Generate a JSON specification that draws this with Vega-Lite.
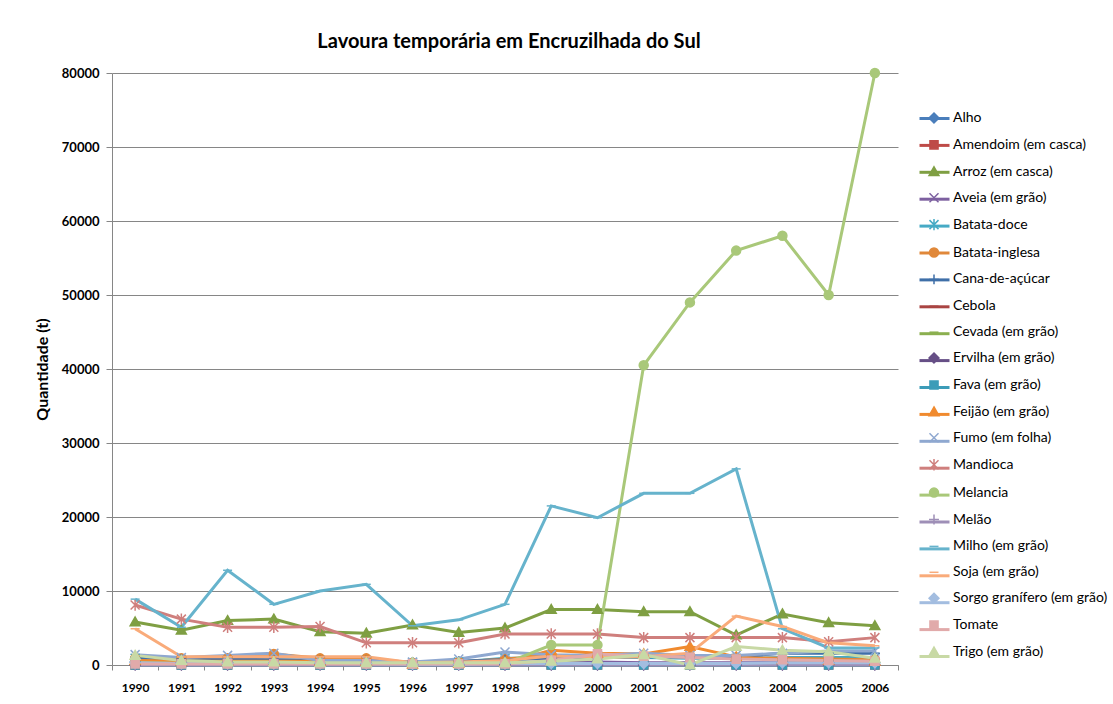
{
"$schema":"https://vega.github.io/schema/vega-lite/v6.json",
"width":786,"height":592,
"autosize":"none",
"padding":{"left":112,"top":73,"right":215,"bottom":39},
"background":"white",
"title":{"text":"Lavoura temporária em Encruzilhada do Sul","font":"Lato","fontSize":20,"fontWeight":"bold","color":"#000000","anchor":"middle","offset":14,"dx":4},
"config":{"view":{"stroke":null},"font":"Lato"},
"data":{"values":[
{"crop":"Alho","year":"1990","value":400},{"crop":"Alho","year":"1991","value":300},{"crop":"Alho","year":"1992","value":300},{"crop":"Alho","year":"1993","value":200},{"crop":"Alho","year":"1994","value":200},{"crop":"Alho","year":"1995","value":200},{"crop":"Alho","year":"1996","value":100},{"crop":"Alho","year":"1997","value":100},{"crop":"Alho","year":"1998","value":100},{"crop":"Alho","year":"1999","value":200},{"crop":"Alho","year":"2000","value":300},{"crop":"Alho","year":"2001","value":200},{"crop":"Alho","year":"2002","value":200},{"crop":"Alho","year":"2003","value":200},{"crop":"Alho","year":"2004","value":300},{"crop":"Alho","year":"2005","value":300},{"crop":"Alho","year":"2006","value":300},
{"crop":"Amendoim (em casca)","year":"1990","value":0},{"crop":"Amendoim (em casca)","year":"1991","value":0},{"crop":"Amendoim (em casca)","year":"1992","value":0},{"crop":"Amendoim (em casca)","year":"1993","value":0},{"crop":"Amendoim (em casca)","year":"1994","value":0},{"crop":"Amendoim (em casca)","year":"1995","value":0},{"crop":"Amendoim (em casca)","year":"1996","value":0},{"crop":"Amendoim (em casca)","year":"1997","value":0},{"crop":"Amendoim (em casca)","year":"1998","value":0},{"crop":"Amendoim (em casca)","year":"1999","value":0},{"crop":"Amendoim (em casca)","year":"2000","value":0},{"crop":"Amendoim (em casca)","year":"2001","value":0},{"crop":"Amendoim (em casca)","year":"2002","value":0},{"crop":"Amendoim (em casca)","year":"2003","value":0},{"crop":"Amendoim (em casca)","year":"2004","value":0},{"crop":"Amendoim (em casca)","year":"2005","value":0},{"crop":"Amendoim (em casca)","year":"2006","value":0},
{"crop":"Arroz (em casca)","year":"1990","value":5800},{"crop":"Arroz (em casca)","year":"1991","value":4700},{"crop":"Arroz (em casca)","year":"1992","value":6000},{"crop":"Arroz (em casca)","year":"1993","value":6200},{"crop":"Arroz (em casca)","year":"1994","value":4500},{"crop":"Arroz (em casca)","year":"1995","value":4300},{"crop":"Arroz (em casca)","year":"1996","value":5400},{"crop":"Arroz (em casca)","year":"1997","value":4400},{"crop":"Arroz (em casca)","year":"1998","value":5000},{"crop":"Arroz (em casca)","year":"1999","value":7500},{"crop":"Arroz (em casca)","year":"2000","value":7500},{"crop":"Arroz (em casca)","year":"2001","value":7200},{"crop":"Arroz (em casca)","year":"2002","value":7200},{"crop":"Arroz (em casca)","year":"2003","value":4050},{"crop":"Arroz (em casca)","year":"2004","value":6900},{"crop":"Arroz (em casca)","year":"2005","value":5700},{"crop":"Arroz (em casca)","year":"2006","value":5300},
{"crop":"Aveia (em grão)","year":"1990","value":300},{"crop":"Aveia (em grão)","year":"1991","value":200},{"crop":"Aveia (em grão)","year":"1992","value":200},{"crop":"Aveia (em grão)","year":"1993","value":300},{"crop":"Aveia (em grão)","year":"1994","value":200},{"crop":"Aveia (em grão)","year":"1995","value":200},{"crop":"Aveia (em grão)","year":"1996","value":100},{"crop":"Aveia (em grão)","year":"1997","value":200},{"crop":"Aveia (em grão)","year":"1998","value":300},{"crop":"Aveia (em grão)","year":"1999","value":300},{"crop":"Aveia (em grão)","year":"2000","value":400},{"crop":"Aveia (em grão)","year":"2001","value":300},{"crop":"Aveia (em grão)","year":"2002","value":300},{"crop":"Aveia (em grão)","year":"2003","value":300},{"crop":"Aveia (em grão)","year":"2004","value":300},{"crop":"Aveia (em grão)","year":"2005","value":300},{"crop":"Aveia (em grão)","year":"2006","value":300},
{"crop":"Batata-doce","year":"1990","value":900},{"crop":"Batata-doce","year":"1991","value":600},{"crop":"Batata-doce","year":"1992","value":600},{"crop":"Batata-doce","year":"1993","value":700},{"crop":"Batata-doce","year":"1994","value":600},{"crop":"Batata-doce","year":"1995","value":600},{"crop":"Batata-doce","year":"1996","value":300},{"crop":"Batata-doce","year":"1997","value":400},{"crop":"Batata-doce","year":"1998","value":900},{"crop":"Batata-doce","year":"1999","value":900},{"crop":"Batata-doce","year":"2000","value":1000},{"crop":"Batata-doce","year":"2001","value":1000},{"crop":"Batata-doce","year":"2002","value":900},{"crop":"Batata-doce","year":"2003","value":900},{"crop":"Batata-doce","year":"2004","value":1000},{"crop":"Batata-doce","year":"2005","value":1000},{"crop":"Batata-doce","year":"2006","value":1000},
{"crop":"Batata-inglesa","year":"1990","value":900},{"crop":"Batata-inglesa","year":"1991","value":900},{"crop":"Batata-inglesa","year":"1992","value":900},{"crop":"Batata-inglesa","year":"1993","value":1500},{"crop":"Batata-inglesa","year":"1994","value":900},{"crop":"Batata-inglesa","year":"1995","value":900},{"crop":"Batata-inglesa","year":"1996","value":300},{"crop":"Batata-inglesa","year":"1997","value":400},{"crop":"Batata-inglesa","year":"1998","value":800},{"crop":"Batata-inglesa","year":"1999","value":1300},{"crop":"Batata-inglesa","year":"2000","value":1200},{"crop":"Batata-inglesa","year":"2001","value":1200},{"crop":"Batata-inglesa","year":"2002","value":1200},{"crop":"Batata-inglesa","year":"2003","value":1000},{"crop":"Batata-inglesa","year":"2004","value":900},{"crop":"Batata-inglesa","year":"2005","value":800},{"crop":"Batata-inglesa","year":"2006","value":700},
{"crop":"Cana-de-açúcar","year":"1990","value":1000},{"crop":"Cana-de-açúcar","year":"1991","value":800},{"crop":"Cana-de-açúcar","year":"1992","value":800},{"crop":"Cana-de-açúcar","year":"1993","value":700},{"crop":"Cana-de-açúcar","year":"1994","value":600},{"crop":"Cana-de-açúcar","year":"1995","value":600},{"crop":"Cana-de-açúcar","year":"1996","value":400},{"crop":"Cana-de-açúcar","year":"1997","value":500},{"crop":"Cana-de-açúcar","year":"1998","value":700},{"crop":"Cana-de-açúcar","year":"1999","value":900},{"crop":"Cana-de-açúcar","year":"2000","value":1100},{"crop":"Cana-de-açúcar","year":"2001","value":1100},{"crop":"Cana-de-açúcar","year":"2002","value":1100},{"crop":"Cana-de-açúcar","year":"2003","value":1100},{"crop":"Cana-de-açúcar","year":"2004","value":1600},{"crop":"Cana-de-açúcar","year":"2005","value":1600},{"crop":"Cana-de-açúcar","year":"2006","value":1600},
{"crop":"Cebola","year":"1990","value":200},{"crop":"Cebola","year":"1991","value":100},{"crop":"Cebola","year":"1992","value":100},{"crop":"Cebola","year":"1993","value":100},{"crop":"Cebola","year":"1994","value":100},{"crop":"Cebola","year":"1995","value":100},{"crop":"Cebola","year":"1996","value":50},{"crop":"Cebola","year":"1997","value":50},{"crop":"Cebola","year":"1998","value":100},{"crop":"Cebola","year":"1999","value":100},{"crop":"Cebola","year":"2000","value":100},{"crop":"Cebola","year":"2001","value":100},{"crop":"Cebola","year":"2002","value":100},{"crop":"Cebola","year":"2003","value":100},{"crop":"Cebola","year":"2004","value":100},{"crop":"Cebola","year":"2005","value":100},{"crop":"Cebola","year":"2006","value":100},
{"crop":"Cevada (em grão)","year":"1990","value":0},{"crop":"Cevada (em grão)","year":"1991","value":0},{"crop":"Cevada (em grão)","year":"1992","value":0},{"crop":"Cevada (em grão)","year":"1993","value":0},{"crop":"Cevada (em grão)","year":"1994","value":0},{"crop":"Cevada (em grão)","year":"1995","value":0},{"crop":"Cevada (em grão)","year":"1996","value":0},{"crop":"Cevada (em grão)","year":"1997","value":0},{"crop":"Cevada (em grão)","year":"1998","value":0},{"crop":"Cevada (em grão)","year":"1999","value":0},{"crop":"Cevada (em grão)","year":"2000","value":0},{"crop":"Cevada (em grão)","year":"2001","value":0},{"crop":"Cevada (em grão)","year":"2002","value":0},{"crop":"Cevada (em grão)","year":"2003","value":0},{"crop":"Cevada (em grão)","year":"2004","value":0},{"crop":"Cevada (em grão)","year":"2005","value":0},{"crop":"Cevada (em grão)","year":"2006","value":0},
{"crop":"Ervilha (em grão)","year":"1990","value":0},{"crop":"Ervilha (em grão)","year":"1991","value":0},{"crop":"Ervilha (em grão)","year":"1992","value":0},{"crop":"Ervilha (em grão)","year":"1993","value":0},{"crop":"Ervilha (em grão)","year":"1994","value":0},{"crop":"Ervilha (em grão)","year":"1995","value":0},{"crop":"Ervilha (em grão)","year":"1996","value":0},{"crop":"Ervilha (em grão)","year":"1997","value":0},{"crop":"Ervilha (em grão)","year":"1998","value":0},{"crop":"Ervilha (em grão)","year":"1999","value":0},{"crop":"Ervilha (em grão)","year":"2000","value":0},{"crop":"Ervilha (em grão)","year":"2001","value":0},{"crop":"Ervilha (em grão)","year":"2002","value":0},{"crop":"Ervilha (em grão)","year":"2003","value":0},{"crop":"Ervilha (em grão)","year":"2004","value":0},{"crop":"Ervilha (em grão)","year":"2005","value":0},{"crop":"Ervilha (em grão)","year":"2006","value":0},
{"crop":"Fava (em grão)","year":"1990","value":0},{"crop":"Fava (em grão)","year":"1991","value":0},{"crop":"Fava (em grão)","year":"1992","value":0},{"crop":"Fava (em grão)","year":"1993","value":0},{"crop":"Fava (em grão)","year":"1994","value":0},{"crop":"Fava (em grão)","year":"1995","value":0},{"crop":"Fava (em grão)","year":"1996","value":0},{"crop":"Fava (em grão)","year":"1997","value":0},{"crop":"Fava (em grão)","year":"1998","value":0},{"crop":"Fava (em grão)","year":"1999","value":0},{"crop":"Fava (em grão)","year":"2000","value":0},{"crop":"Fava (em grão)","year":"2001","value":0},{"crop":"Fava (em grão)","year":"2002","value":0},{"crop":"Fava (em grão)","year":"2003","value":0},{"crop":"Fava (em grão)","year":"2004","value":0},{"crop":"Fava (em grão)","year":"2005","value":0},{"crop":"Fava (em grão)","year":"2006","value":0},
{"crop":"Feijão (em grão)","year":"1990","value":600},{"crop":"Feijão (em grão)","year":"1991","value":500},{"crop":"Feijão (em grão)","year":"1992","value":500},{"crop":"Feijão (em grão)","year":"1993","value":500},{"crop":"Feijão (em grão)","year":"1994","value":500},{"crop":"Feijão (em grão)","year":"1995","value":500},{"crop":"Feijão (em grão)","year":"1996","value":100},{"crop":"Feijão (em grão)","year":"1997","value":200},{"crop":"Feijão (em grão)","year":"1998","value":300},{"crop":"Feijão (em grão)","year":"1999","value":2000},{"crop":"Feijão (em grão)","year":"2000","value":1600},{"crop":"Feijão (em grão)","year":"2001","value":1500},{"crop":"Feijão (em grão)","year":"2002","value":2500},{"crop":"Feijão (em grão)","year":"2003","value":1100},{"crop":"Feijão (em grão)","year":"2004","value":700},{"crop":"Feijão (em grão)","year":"2005","value":600},{"crop":"Feijão (em grão)","year":"2006","value":500},
{"crop":"Fumo (em folha)","year":"1990","value":1400},{"crop":"Fumo (em folha)","year":"1991","value":1000},{"crop":"Fumo (em folha)","year":"1992","value":1300},{"crop":"Fumo (em folha)","year":"1993","value":1600},{"crop":"Fumo (em folha)","year":"1994","value":600},{"crop":"Fumo (em folha)","year":"1995","value":600},{"crop":"Fumo (em folha)","year":"1996","value":400},{"crop":"Fumo (em folha)","year":"1997","value":800},{"crop":"Fumo (em folha)","year":"1998","value":1750},{"crop":"Fumo (em folha)","year":"1999","value":1400},{"crop":"Fumo (em folha)","year":"2000","value":1300},{"crop":"Fumo (em folha)","year":"2001","value":1600},{"crop":"Fumo (em folha)","year":"2002","value":1300},{"crop":"Fumo (em folha)","year":"2003","value":1300},{"crop":"Fumo (em folha)","year":"2004","value":1600},{"crop":"Fumo (em folha)","year":"2005","value":1900},{"crop":"Fumo (em folha)","year":"2006","value":1900},
{"crop":"Mandioca","year":"1990","value":8100},{"crop":"Mandioca","year":"1991","value":6200},{"crop":"Mandioca","year":"1992","value":5100},{"crop":"Mandioca","year":"1993","value":5100},{"crop":"Mandioca","year":"1994","value":5200},{"crop":"Mandioca","year":"1995","value":3000},{"crop":"Mandioca","year":"1996","value":3000},{"crop":"Mandioca","year":"1997","value":3000},{"crop":"Mandioca","year":"1998","value":4200},{"crop":"Mandioca","year":"1999","value":4200},{"crop":"Mandioca","year":"2000","value":4200},{"crop":"Mandioca","year":"2001","value":3700},{"crop":"Mandioca","year":"2002","value":3700},{"crop":"Mandioca","year":"2003","value":3700},{"crop":"Mandioca","year":"2004","value":3700},{"crop":"Mandioca","year":"2005","value":3150},{"crop":"Mandioca","year":"2006","value":3700},
{"crop":"Melancia","year":"1990","value":300},{"crop":"Melancia","year":"1991","value":200},{"crop":"Melancia","year":"1992","value":200},{"crop":"Melancia","year":"1993","value":200},{"crop":"Melancia","year":"1994","value":200},{"crop":"Melancia","year":"1995","value":200},{"crop":"Melancia","year":"1996","value":200},{"crop":"Melancia","year":"1997","value":200},{"crop":"Melancia","year":"1998","value":200},{"crop":"Melancia","year":"1999","value":2700},{"crop":"Melancia","year":"2000","value":2700},{"crop":"Melancia","year":"2001","value":40500},{"crop":"Melancia","year":"2002","value":49000},{"crop":"Melancia","year":"2003","value":56000},{"crop":"Melancia","year":"2004","value":58000},{"crop":"Melancia","year":"2005","value":50000},{"crop":"Melancia","year":"2006","value":80000},
{"crop":"Melão","year":"1990","value":0},{"crop":"Melão","year":"1991","value":0},{"crop":"Melão","year":"1992","value":0},{"crop":"Melão","year":"1993","value":0},{"crop":"Melão","year":"1994","value":0},{"crop":"Melão","year":"1995","value":0},{"crop":"Melão","year":"1996","value":0},{"crop":"Melão","year":"1997","value":0},{"crop":"Melão","year":"1998","value":0},{"crop":"Melão","year":"1999","value":0},{"crop":"Melão","year":"2000","value":0},{"crop":"Melão","year":"2001","value":0},{"crop":"Melão","year":"2002","value":0},{"crop":"Melão","year":"2003","value":0},{"crop":"Melão","year":"2004","value":0},{"crop":"Melão","year":"2005","value":0},{"crop":"Melão","year":"2006","value":0},
{"crop":"Milho (em grão)","year":"1990","value":8900},{"crop":"Milho (em grão)","year":"1991","value":5100},{"crop":"Milho (em grão)","year":"1992","value":12800},{"crop":"Milho (em grão)","year":"1993","value":8200},{"crop":"Milho (em grão)","year":"1994","value":10000},{"crop":"Milho (em grão)","year":"1995","value":10900},{"crop":"Milho (em grão)","year":"1996","value":5300},{"crop":"Milho (em grão)","year":"1997","value":6100},{"crop":"Milho (em grão)","year":"1998","value":8200},{"crop":"Milho (em grão)","year":"1999","value":21500},{"crop":"Milho (em grão)","year":"2000","value":19900},{"crop":"Milho (em grão)","year":"2001","value":23200},{"crop":"Milho (em grão)","year":"2002","value":23200},{"crop":"Milho (em grão)","year":"2003","value":26500},{"crop":"Milho (em grão)","year":"2004","value":4900},{"crop":"Milho (em grão)","year":"2005","value":2300},{"crop":"Milho (em grão)","year":"2006","value":2300},
{"crop":"Soja (em grão)","year":"1990","value":4900},{"crop":"Soja (em grão)","year":"1991","value":1100},{"crop":"Soja (em grão)","year":"1992","value":1100},{"crop":"Soja (em grão)","year":"1993","value":1100},{"crop":"Soja (em grão)","year":"1994","value":1100},{"crop":"Soja (em grão)","year":"1995","value":1100},{"crop":"Soja (em grão)","year":"1996","value":300},{"crop":"Soja (em grão)","year":"1997","value":400},{"crop":"Soja (em grão)","year":"1998","value":600},{"crop":"Soja (em grão)","year":"1999","value":1200},{"crop":"Soja (em grão)","year":"2000","value":1000},{"crop":"Soja (em grão)","year":"2001","value":1100},{"crop":"Soja (em grão)","year":"2002","value":1600},{"crop":"Soja (em grão)","year":"2003","value":6600},{"crop":"Soja (em grão)","year":"2004","value":5200},{"crop":"Soja (em grão)","year":"2005","value":3000},{"crop":"Soja (em grão)","year":"2006","value":2600},
{"crop":"Sorgo granífero (em grão)","year":"1990","value":300},{"crop":"Sorgo granífero (em grão)","year":"1991","value":200},{"crop":"Sorgo granífero (em grão)","year":"1992","value":200},{"crop":"Sorgo granífero (em grão)","year":"1993","value":200},{"crop":"Sorgo granífero (em grão)","year":"1994","value":200},{"crop":"Sorgo granífero (em grão)","year":"1995","value":200},{"crop":"Sorgo granífero (em grão)","year":"1996","value":100},{"crop":"Sorgo granífero (em grão)","year":"1997","value":100},{"crop":"Sorgo granífero (em grão)","year":"1998","value":200},{"crop":"Sorgo granífero (em grão)","year":"1999","value":200},{"crop":"Sorgo granífero (em grão)","year":"2000","value":200},{"crop":"Sorgo granífero (em grão)","year":"2001","value":200},{"crop":"Sorgo granífero (em grão)","year":"2002","value":200},{"crop":"Sorgo granífero (em grão)","year":"2003","value":200},{"crop":"Sorgo granífero (em grão)","year":"2004","value":300},{"crop":"Sorgo granífero (em grão)","year":"2005","value":300},{"crop":"Sorgo granífero (em grão)","year":"2006","value":300},
{"crop":"Tomate","year":"1990","value":150},{"crop":"Tomate","year":"1991","value":150},{"crop":"Tomate","year":"1992","value":150},{"crop":"Tomate","year":"1993","value":150},{"crop":"Tomate","year":"1994","value":150},{"crop":"Tomate","year":"1995","value":150},{"crop":"Tomate","year":"1996","value":150},{"crop":"Tomate","year":"1997","value":150},{"crop":"Tomate","year":"1998","value":150},{"crop":"Tomate","year":"1999","value":600},{"crop":"Tomate","year":"2000","value":1500},{"crop":"Tomate","year":"2001","value":1200},{"crop":"Tomate","year":"2002","value":1000},{"crop":"Tomate","year":"2003","value":800},{"crop":"Tomate","year":"2004","value":700},{"crop":"Tomate","year":"2005","value":600},{"crop":"Tomate","year":"2006","value":500},
{"crop":"Trigo (em grão)","year":"1990","value":1300},{"crop":"Trigo (em grão)","year":"1991","value":600},{"crop":"Trigo (em grão)","year":"1992","value":400},{"crop":"Trigo (em grão)","year":"1993","value":400},{"crop":"Trigo (em grão)","year":"1994","value":300},{"crop":"Trigo (em grão)","year":"1995","value":300},{"crop":"Trigo (em grão)","year":"1996","value":300},{"crop":"Trigo (em grão)","year":"1997","value":300},{"crop":"Trigo (em grão)","year":"1998","value":300},{"crop":"Trigo (em grão)","year":"1999","value":500},{"crop":"Trigo (em grão)","year":"2000","value":800},{"crop":"Trigo (em grão)","year":"2001","value":1400},{"crop":"Trigo (em grão)","year":"2002","value":0},{"crop":"Trigo (em grão)","year":"2003","value":2500},{"crop":"Trigo (em grão)","year":"2004","value":2000},{"crop":"Trigo (em grão)","year":"2005","value":1800},{"crop":"Trigo (em grão)","year":"2006","value":900}
]},
"encoding":{
"x":{"field":"year","type":"ordinal","scale":{"type":"band","paddingInner":0,"paddingOuter":0},
"axis":{"title":null,"labelAngle":0,"labelFont":"Lato","labelFontSize":12,"labelFontWeight":"bold","labelColor":"#000000","domainColor":"#868686","tickColor":"#868686","tickSize":5,"tickBand":"extent","labelPadding":12,"grid":false}},
"y":{"field":"value","type":"quantitative","scale":{"domain":[0,80000],"nice":false},
"axis":{"title":"Quantidade (t)","titleFont":"Lato","titleFontSize":16,"titleFontWeight":"bold","titleColor":"#000000","values":[0,10000,20000,30000,40000,50000,60000,70000,80000],"format":"d","labelFont":"Lato","labelFontSize":13,"labelFontWeight":"bold","labelColor":"#000000","domainColor":"#868686","tickColor":"#868686","tickSize":6,"gridColor":"#868686","gridWidth":1,"labelPadding":7,"titlePadding":11}}
},
"layer":[
{"mark":{"type":"line","strokeWidth":3},
"encoding":{"color":{"field":"crop","type":"nominal",
"scale":{"domain":["Alho","Amendoim (em casca)","Arroz (em casca)","Aveia (em grão)","Batata-doce","Batata-inglesa","Cana-de-açúcar","Cebola","Cevada (em grão)","Ervilha (em grão)","Fava (em grão)","Feijão (em grão)","Fumo (em folha)","Mandioca","Melancia","Melão","Milho (em grão)","Soja (em grão)","Sorgo granífero (em grão)","Tomate","Trigo (em grão)"],
"range":["#4A7EBB","#BE4B48","#7F9F43","#7D60A0","#46AAC5","#E0883A","#3F6FA8","#A94442","#8BAF4F","#664F86","#3C9CB8","#F08A2E","#8FA8D0","#CF7F7D","#A9C879","#9E8FB7","#66B3CC","#F9AB7A","#A3BDE0","#E1AAAA","#C8D9A5"]},
"legend":{"title":null,"orient":"none","legendX":806,"legendY":29,"symbolType":"stroke","symbolSize":900,"symbolStrokeWidth":3,"rowPadding":2.9,"padding":0,"labelFont":"Lato","labelFontSize":14,"labelColor":"#000000","labelExpr":"''","labelLimit":300}}}},
{"mark":{"type":"point","filled":true,"size":900,"strokeWidth":1.5,"opacity":1},
"encoding":{
"fill":{"field":"crop","type":"nominal","scale":{"range":["#4A7EBB","#BE4B48","#7F9F43","#7D60A0","#46AAC5","#E0883A","#3F6FA8","#A94442","#8BAF4F","#664F86","#3C9CB8","#F08A2E","#8FA8D0","#CF7F7D","#A9C879","#9E8FB7","#66B3CC","#F9AB7A","#A3BDE0","#E1AAAA","#C8D9A5"]},
"legend":{"title":null,"orient":"none","legendX":806,"legendY":29,"symbolSize":900,"symbolStrokeWidth":1.5,"rowPadding":2.9,"padding":0,"labelFont":"Lato","labelFontSize":14,"labelColor":"#000000","labelLimit":300,"labelOffset":3}},
"stroke":{"field":"crop","type":"nominal","scale":{"range":["#4A7EBB","#BE4B48","#7F9F43","#7D60A0","#46AAC5","#E0883A","#3F6FA8","#A94442","#8BAF4F","#664F86","#3C9CB8","#F08A2E","#8FA8D0","#CF7F7D","#A9C879","#9E8FB7","#66B3CC","#F9AB7A","#A3BDE0","#E1AAAA","#C8D9A5"]},
"legend":{"title":null,"orient":"none","legendX":806,"legendY":29,"symbolSize":900,"symbolStrokeWidth":1.5,"rowPadding":2.9,"padding":0,"labelFont":"Lato","labelFontSize":14,"labelColor":"#000000","labelLimit":300,"labelOffset":3}},
"shape":{"field":"crop","type":"nominal","scale":{"range":[
"M0,-0.33L0.33,0L0,0.33L-0.33,0Z",
"M-0.27,-0.27H0.27V0.27H-0.27Z",
"M0,-0.33L0.33,0.25L-0.33,0.25Z",
"M-0.3,-0.3L0.3,0.3M-0.3,0.3L0.3,-0.3",
"M-0.3,-0.3L0.3,0.3M-0.3,0.3L0.3,-0.3M0,-0.38V0.38",
"M-0.3,0A0.3,0.3,0,1,0,0.3,0A0.3,0.3,0,1,0,-0.3,0Z",
"M-0.33,0H0.33M0,-0.33V0.33",
"M-0.3,0H0.3",
"M-0.3,0H0.3",
"M0,-0.33L0.33,0L0,0.33L-0.33,0Z",
"M-0.27,-0.27H0.27V0.27H-0.27Z",
"M0,-0.33L0.33,0.25L-0.33,0.25Z",
"M-0.3,-0.3L0.3,0.3M-0.3,0.3L0.3,-0.3",
"M-0.3,-0.3L0.3,0.3M-0.3,0.3L0.3,-0.3M0,-0.38V0.38",
"M-0.3,0A0.3,0.3,0,1,0,0.3,0A0.3,0.3,0,1,0,-0.3,0Z",
"M-0.33,0H0.33M0,-0.33V0.33",
"M-0.3,0H0.3",
"M-0.3,0H0.3",
"M0,-0.33L0.33,0L0,0.33L-0.33,0Z",
"M-0.27,-0.27H0.27V0.27H-0.27Z",
"M0,-0.33L0.33,0.25L-0.33,0.25Z"]},
"legend":{"title":null,"orient":"none","legendX":806,"legendY":29,"symbolSize":900,"symbolStrokeWidth":1.5,"rowPadding":2.9,"padding":0,"labelFont":"Lato","labelFontSize":14,"labelColor":"#000000","labelLimit":300,"labelOffset":3}}
}}
]
}
